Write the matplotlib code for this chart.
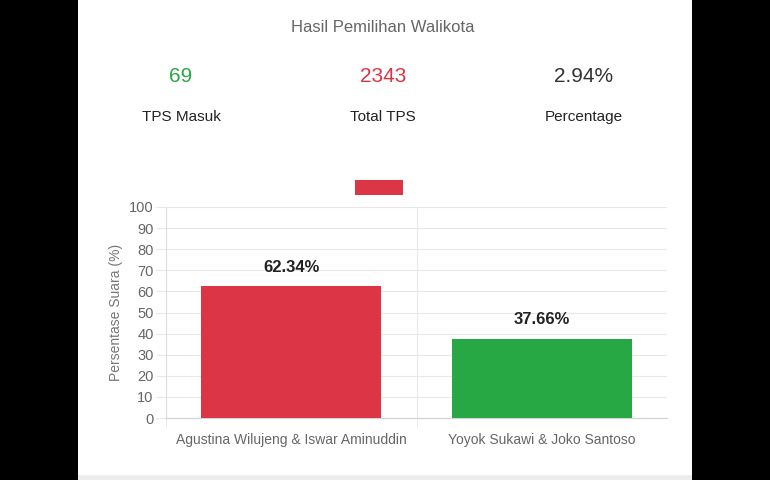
import matplotlib
matplotlib.use("Agg")
import matplotlib.pyplot as plt
from matplotlib.patches import Rectangle

plt.rcParams["font.family"] = ["Liberation Sans", "DejaVu Sans"]

# data
candidates = ["Agustina Wilujeng & Iswar Aminuddin", "Yoyok Sukawi & Joko Santoso"]
vote_pct = [62.34, 37.66]
bar_colors = ["#dc3545", "#28a745"]

stat_values = ["69", "2343", "2.94%"]
stat_labels = ["TPS Masuk", "Total TPS", "Percentage"]
stat_colors = ["#28a745", "#dc3545", "#333333"]

y_ticks = list(range(0, 101, 10))

W, H = 770, 480
fig = plt.figure(figsize=(W / 100, H / 100), dpi=100, facecolor="black")

def fx(px):
    return px / W

def fy(py):
    return 1 - py / H

# white card + grey strip at the bottom
fig.patches.append(Rectangle((fx(78), 0), fx(614), 1, transform=fig.transFigure,
                             facecolor="white", edgecolor="none", zorder=-10))
fig.patches.append(Rectangle((fx(78), 0), fx(614), 5 / H, transform=fig.transFigure,
                             facecolor="#ececec", edgecolor="none", zorder=-9))

# header
fig.text(fx(383), fy(28), "Hasil Pemilihan Walikota", ha="center", va="center",
         fontsize=12, color="#666666")
for cx, val, lab, col in zip([181, 383, 584], stat_values, stat_labels, stat_colors):
    fig.text(fx(cx), fy(76), val, ha="center", va="center", fontsize=15, color=col)
    fig.text(fx(cx), fy(117), lab, ha="center", va="center", fontsize=11, color="#222222")

# legend swatch (empty label)
fig.patches.append(Rectangle((fx(355), fy(195)), fx(48), 15 / H, transform=fig.transFigure,
                             facecolor=bar_colors[0], edgecolor="none"))

# chart
ax = fig.add_axes([fx(166), fy(418), fx(667 - 166), (418 - 207) / H])
ax.set_zorder(5)
ax.set_facecolor("none")
x = range(len(candidates))
bars = ax.bar(x, vote_pct, width=0.72, color=bar_colors, zorder=3)
for rect, v in zip(bars, vote_pct):
    ax.annotate(f"{v:.2f}%", (rect.get_x() + rect.get_width() / 2, v),
                xytext=(0, 19), textcoords="offset pixels", ha="center", va="center",
                fontsize=12, fontweight="bold", color="#222222")

ax.set_xlim(-0.5, 1.5)
ax.set_ylim(0, 100)
ax.set_yticks(y_ticks)
ax.set_xticks(list(x))
ax.set_xticklabels(candidates)
ax.set_xticks([-0.5, 0.5], minor=True)

ax.grid(axis="y", color="#e8e8e8", linewidth=0.8, zorder=0)
ax.grid(axis="x", which="minor", color="#e8e8e8", linewidth=0.8, zorder=0)
ax.tick_params(axis="y", length=7, color="#e8e8e8", labelsize=10.5, labelcolor="#666666", pad=2)
ax.tick_params(axis="x", which="major", length=0, labelsize=10, labelcolor="#666666", pad=11)
ax.tick_params(axis="x", which="minor", length=7, color="#e8e8e8")

for side in ["top", "right"]:
    ax.spines[side].set_visible(False)
ax.spines["left"].set_color("#e0e0e0")
ax.spines["bottom"].set_color("#cfd4dc")
ax.spines["left"].set_linewidth(0.8)
ax.spines["bottom"].set_linewidth(0.9)

ax.set_ylabel("Persentase Suara (%)", fontsize=10, color="#777777")
ax.yaxis.set_label_coords(-0.086, 0.5)

fig.savefig("out.png", dpi=100, facecolor=fig.get_facecolor())
